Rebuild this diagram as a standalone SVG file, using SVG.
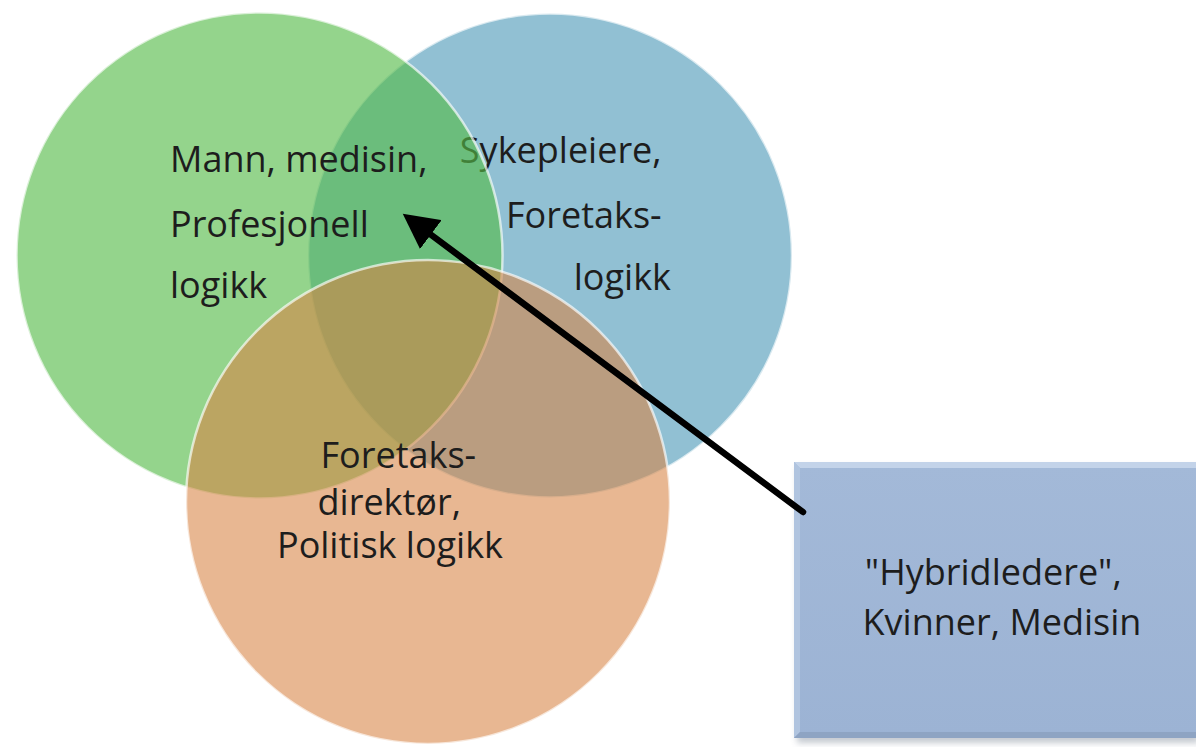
<svg xmlns="http://www.w3.org/2000/svg" width="1196" height="747" viewBox="0 0 1196 747">
  <style>
    .lbl { font-family: "Open Sans", "Liberation Sans", sans-serif; font-size: 36px; fill: #1d1d1d; }
    .rim { stroke: #ffffff; stroke-opacity: 0.65; stroke-width: 2.5; }
  </style>
  <defs>
    <marker id="ah" viewBox="0 -18 36 36" markerWidth="36" markerHeight="36" refX="1" refY="0" orient="auto" markerUnits="userSpaceOnUse">
      <path d="M0,-18 L35,0 L0,18 z" fill="#000"/>
    </marker>
    <filter id="shadow" x="-10%" y="-10%" width="130%" height="130%">
      <feGaussianBlur stdDeviation="3"/>
    </filter>
    <linearGradient id="boxg" x1="0" y1="0" x2="0" y2="1">
      <stop offset="0" stop-color="#a3b9d8"/>
      <stop offset="1" stop-color="#9cb3d4"/>
    </linearGradient>
  </defs>
  <rect width="1196" height="747" fill="#ffffff"/>

  <g id="node-blue">
    <circle cx="550" cy="255.5" r="242" fill="#91c0d3" class="rim"/>
    <text class="lbl" text-anchor="end">
      <tspan x="671" y="163">Sykepleiere,</tspan>
      <tspan x="671" y="228">Foretaks-</tspan>
      <tspan x="671" y="290">logikk</tspan>
    </text>
  </g>

  <g id="node-green">
    <circle cx="259.5" cy="255.5" r="243" fill="#55bb49" fill-opacity="0.63" class="rim"/>
    <text class="lbl">
      <tspan x="170" y="172">Mann, medisin,</tspan>
      <tspan x="170" y="237">Profesjonell</tspan>
      <tspan x="170" y="298">logikk</tspan>
    </text>
  </g>

  <g id="node-orange">
    <circle cx="428" cy="502" r="242" fill="#d78343" fill-opacity="0.58" class="rim"/>
    <text class="lbl" text-anchor="middle">
      <tspan x="403" y="468">Foretaks-</tspan>
      <tspan x="394" y="515">direktør,</tspan>
      <tspan x="390" y="558">Politisk logikk</tspan>
    </text>
  </g>

  <g id="node-box">
    <rect x="797" y="467" width="402" height="276" fill="#7f8a99" opacity="0.45" filter="url(#shadow)"/>
    <rect x="794" y="462" width="402" height="276" fill="url(#boxg)"/>
    <polygon points="794,462 1196,462 1196,468 800,468" fill="#c3d3e9"/>
    <polygon points="794,462 800,468 800,732 794,738" fill="#b0c4df"/>
    <polygon points="794,738 800,732 1196,732 1196,738" fill="#8ea4c3"/>
    <text class="lbl" text-anchor="middle">
      <tspan x="998" y="585">"Hybridledere",</tspan>
      <tspan x="1002" y="635">Kvinner, Medisin</tspan>
    </text>
  </g>

  <g id="connectors">
    <line x1="803" y1="512" x2="430" y2="234" stroke="#000" stroke-width="6.5" stroke-linecap="round" marker-end="url(#ah)"/>
  </g>
</svg>
